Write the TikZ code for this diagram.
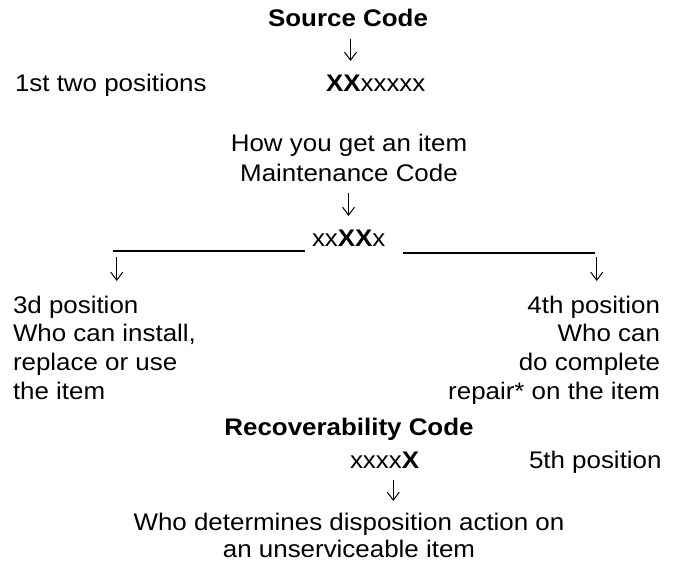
\documentclass[tikz,border=0pt]{standalone}
\usepackage{fontspec}
\setmainfont{Liberation Sans}[FakeStretch=1.08]
\usetikzlibrary{arrows.meta}
\begin{document}
\begin{tikzpicture}[x=1pt,y=-1pt,
  txt/.style={inner sep=0pt, outer sep=0pt, font=\fontsize{24}{29}\selectfont},
  lt/.style={txt, anchor=base west},
  rt/.style={txt, anchor=base east},
  ct/.style={txt, anchor=base},
  darrow/.style={line width=1pt, -{Straight Barb[length=8pt,width=12pt,line width=1pt]}},
  bar/.style={line width=1.7pt}]
\useasboundingbox (0,0) rectangle (680,562);
% Source code
\node[ct] (src) at (348,27) {\textbf{Source Code}};
\coordinate (a1s) at (350.5,39);
\coordinate (a1e) at (350.5,61);
\draw[darrow] (a1s) -- (a1e);
\node[lt] (first) at (15,91) {1st two positions};
\node[lt] (xx1) at (326,91) {\textbf{XX}xxxxx};
% Maintenance code
\node[ct] (how) at (349,151.7) {How you get an item};
\node[ct] (mc) at (349,181.7) {Maintenance Code};
\coordinate (a2s) at (348.5,193);
\coordinate (a2e) at (348.5,216);
\draw[darrow] (a2s) -- (a2e);
\node[lt] (xx2) at (312,246.7) {xx\textbf{XX}x};
\coordinate (l1) at (113,251);
\coordinate (l2) at (305,251);
\coordinate (r1) at (403,253);
\coordinate (r2) at (595,253);
\draw[bar] (l1) -- (l2);
\draw[bar] (r1) -- (r2);
\coordinate (a3s) at (116.7,257);
\coordinate (a3e) at (116.7,281);
\draw[darrow] (a3s) -- (a3e);
\coordinate (a4s) at (596.7,257);
\coordinate (a4e) at (596.7,281);
\draw[darrow] (a4s) -- (a4e);
% left block
\node[lt] (L1) at (13,313) {3d position};
\node[lt] (L2) at (13,341.5) {Who can install,};
\node[lt] (L3) at (13,370) {replace or use};
\node[lt] (L4) at (13,399) {the item};
% right block
\node[rt] (R1) at (660,313) {4th position};
\node[rt] (R2) at (660,341.5) {Who can};
\node[rt] (R3) at (660,370) {do complete};
\node[rt] (R4) at (660,399) {repair* on the item};
% Recoverability
\node[ct] (rc) at (349,435) {\textbf{Recoverability Code}};
\node[lt] (xx3) at (350,468) {xxxx\textbf{X}};
\node[lt] (fifth) at (529,468) {5th position};
\coordinate (a5s) at (393.3,480);
\coordinate (a5e) at (393.3,501);
\draw[darrow] (a5s) -- (a5e);
\node[ct] (who) at (349,530) {Who determines disposition action on};
\node[ct] (uns) at (349,557) {an unserviceable item};
\end{tikzpicture}
\end{document}
